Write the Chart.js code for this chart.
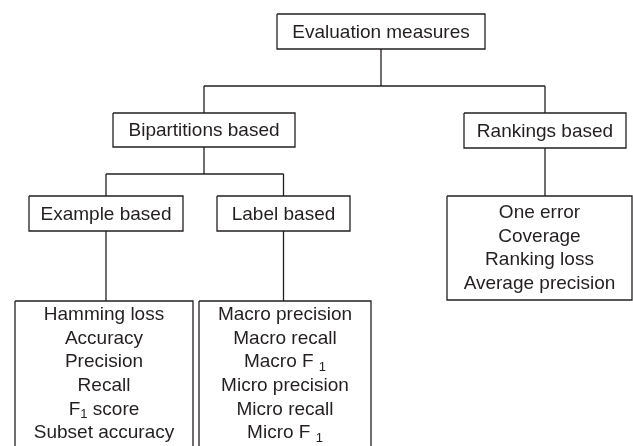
<!DOCTYPE html>
<html>
<head>
<meta charset="utf-8">
<script src="https://cdn.jsdelivr.net/npm/chart.js@4/dist/chart.umd.min.js"></script>
<style>
  html, body { margin: 0; padding: 0; background: #fff; }
  #tree { display: block; }
</style>
</head>
<body>
<canvas id="tree" width="633" height="446"></canvas>
<script>
// 节点文字（"{1}" 表示下标）
const rootLabel = "Evaluation measures";
const groupLabels = ["Bipartitions based", "Rankings based"];
const subgroupLabels = ["Example based", "Label based"];
const exampleMeasures = ["Hamming loss", "Accuracy", "Precision", "Recall", "F{1} score", "Subset accuracy"];
const labelMeasures = ["Macro precision", "Macro recall", "Macro F {1}", "Micro precision", "Micro recall", "Micro F {1}"];
const rankingMeasures = ["One error", "Coverage", "Ranking loss", "Average precision"];

// 布局：每个框 [x1, y1, x2, y2]，坐标单位就是坐标轴的值
const layout = {
    root:      [277, 14, 485, 49],
    bip:       [113, 113, 295, 147],
    rank:      [464, 113, 626, 148],
    example:   [29, 196, 183, 231],
    label:     [217, 196, 350, 231],
    exList:    [15, 301, 193, 460],
    lbList:    [199, 301, 371, 460],
    rkList:    [447, 196, 632, 300]
};

// 连线：父节点 -> 子节点，bus 为横线所在的 y
const edges = [
    { from: "root", to: ["bip", "rank"], bus: 86 },
    { from: "bip", to: ["example", "label"], bus: 174 },
    { from: "example", to: ["exList"], bus: null },
    { from: "label", to: ["lbList"], bus: null },
    { from: "rank", to: ["rkList"], bus: null }
];

const texts = [
    { box: "root", lines: [rootLabel] },
    { box: "bip", lines: [groupLabels[0]] },
    { box: "rank", lines: [groupLabels[1]] },
    { box: "example", lines: [subgroupLabels[0]] },
    { box: "label", lines: [subgroupLabels[1]] },
    { box: "exList", lines: exampleMeasures, top: 315 },
    { box: "lbList", lines: labelMeasures, top: 315 },
    { box: "rkList", lines: rankingMeasures, top: 213 }
];

const INK = "#231f20";
const LINE_GAP = 23.6;
const FONT_SIZE = 19;
const FONT_FAMILY = "'Liberation Sans', Arial, sans-serif";

function cx(b){ return (b[0] + b[2]) / 2; }

function lineDataset(points){
    return {
        data: points,
        showLine: true,
        borderColor: INK,
        borderWidth: 1.3,
        pointRadius: 0,
        fill: false
    };
}

const datasets = [];

// 框
Object.values(layout).forEach(b => {
    datasets.push(lineDataset([
        { x: b[0], y: b[1] }, { x: b[2], y: b[1] },
        { x: b[2], y: b[3] }, { x: b[0], y: b[3] },
        { x: b[0], y: b[1] }
    ]));
});

// 连线
edges.forEach(e => {
    const p = layout[e.from];
    const kids = e.to.map(k => layout[k]);
    if(e.bus === null){
        datasets.push(lineDataset([{ x: cx(p), y: p[3] }, { x: cx(p), y: kids[0][1] }]));
        return;
    }
    datasets.push(lineDataset([{ x: cx(p), y: p[3] }, { x: cx(p), y: e.bus }]));
    const xs = kids.map(cx);
    datasets.push(lineDataset([{ x: Math.min(...xs), y: e.bus }, { x: Math.max(...xs), y: e.bus }]));
    kids.forEach(k => {
        datasets.push(lineDataset([{ x: cx(k), y: e.bus }, { x: cx(k), y: k[1] }]));
    });
});

// 解析 "F{1}" 形式的下标
function parts(str){
    const out = [];
    const re = /\{([^}]*)\}/g;
    let last = 0, m;
    while((m = re.exec(str))){
        if(m.index > last) out.push({ t: str.slice(last, m.index), sub: false });
        out.push({ t: m[1], sub: true });
        last = re.lastIndex;
    }
    if(last < str.length) out.push({ t: str.slice(last), sub: false });
    return out;
}

function drawRich(ctx, str, x, y){
    const segs = parts(str);
    const fonts = segs.map(s => (s.sub ? Math.round(FONT_SIZE * 0.7) : FONT_SIZE) + "px " + FONT_FAMILY);
    let total = 0;
    const widths = segs.map((s, i) => { ctx.font = fonts[i]; const w = ctx.measureText(s.t).width; total += w; return w; });
    let px = x - total / 2;
    segs.forEach((s, i) => {
        ctx.font = fonts[i];
        ctx.fillText(s.t, px, s.sub ? y + 5 : y);
        px += widths[i];
    });
}

const textPlugin = {
    id: "nodeText",
    afterDatasetsDraw(chart){
        const ctx = chart.ctx;
        const xs = chart.scales.x, ys = chart.scales.y;
        ctx.save();
        ctx.fillStyle = INK;
        ctx.textAlign = "left";
        ctx.textBaseline = "middle";
        texts.forEach(t => {
            const b = layout[t.box];
            const x = xs.getPixelForValue(cx(b));
            t.lines.forEach((line, i) => {
                const yv = t.top !== undefined ? t.top + i * LINE_GAP : (b[1] + b[3]) / 2 + 1;
                drawRich(ctx, line, x, ys.getPixelForValue(yv));
            });
        });
        ctx.restore();
    }
};

new Chart(document.getElementById("tree"), {
    type: "scatter",
    data: { datasets: datasets },
    options: {
        responsive: false,
        animation: false,
        devicePixelRatio: 1,
        layout: { padding: 0 },
        plugins: { legend: { display: false }, tooltip: { enabled: false } },
        scales: {
            x: { type: "linear", min: 0, max: 633, display: false },
            y: { type: "linear", min: 0, max: 446, reverse: true, display: false }
        }
    },
    plugins: [textPlugin]
});
</script>
</body>
</html>
